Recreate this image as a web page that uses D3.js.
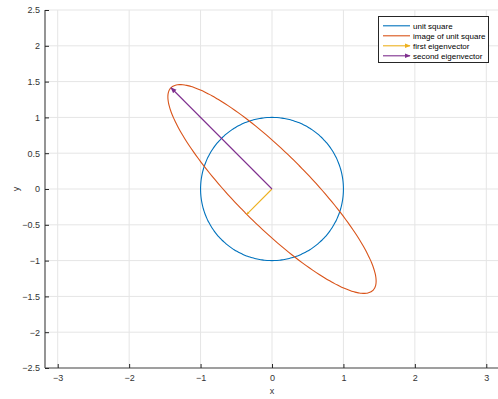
<!DOCTYPE html>
<html>
<head>
<meta charset="utf-8">
<script src="https://cdn.jsdelivr.net/npm/d3@7"></script>
<style>
  body { margin: 0; background: #fff; }
  text { font-family: "Liberation Sans", Arial, sans-serif; }
</style>
</head>
<body>
<script>
// eigenvectors of a 2x2 matrix, unit circle and its image

const w = 498;
const h = 399;

const xTicks = [-3, -2, -1, 0, 1, 2, 3];
const yTicks = [-2.5, -2, -1.5, -1, -0.5, 0, 0.5, 1, 1.5, 2, 2.5];
const xDomain = [-3.178, 3.178];
const yDomain = [-2.5, 2.5];

const matrixA = [[1.25, -0.75], [-0.75, 1.25]];
const eigenvalues = [0.5, 2];
const eigenvectors = [[-0.7071, -0.7071], [-0.7071, 0.7071]];

const seriesNames = ["unit square", "image of unit square", "first eigenvector", "second eigenvector"];
const colors = ["#0072BD", "#D95319", "#EDB120", "#7E2F8E"];

const margin = { top: 10, left: 45, right: -1, bottom: 31 };

const x_scale = d3.scaleLinear()
  .domain(xDomain)
  .range([margin.left, w - margin.right]);

const y_scale = d3.scaleLinear()
  .domain(yDomain)
  .range([h - margin.bottom, margin.top]);

const svg = d3.select("body")
  .append("svg")
  .attr("width", w)
  .attr("height", h);

// arrow heads: plot ones and legend ones
const defs = svg.append("defs");
const heads = [
  { id: "head0", color: colors[2], size: 3 },
  { id: "head1", color: colors[3], size: 6 },
  { id: "lhead0", color: colors[2], size: 6 },
  { id: "lhead1", color: colors[3], size: 6 }
];
heads.forEach(m => {
  defs.append("marker")
    .attr("id", m.id)
    .attr("viewBox", "0 0 10 10")
    .attr("refX", 9)
    .attr("refY", 5)
    .attr("markerWidth", m.size)
    .attr("markerHeight", m.size)
    .attr("markerUnits", "userSpaceOnUse")
    .attr("orient", "auto")
    .append("path")
    .attr("d", "M0,1 L10,5 L0,9 Z")
    .attr("fill", m.color);
});

// grid
svg.append("g")
  .selectAll("line")
  .data(xTicks)
  .enter()
  .append("line")
  .attr("x1", d => x_scale(d))
  .attr("x2", d => x_scale(d))
  .attr("y1", y_scale(yDomain[0]))
  .attr("y2", y_scale(yDomain[1]))
  .attr("stroke", "#e5e5e5")
  .attr("stroke-width", 1);

svg.append("g")
  .selectAll("line")
  .data(yTicks)
  .enter()
  .append("line")
  .attr("x1", x_scale(xDomain[0]))
  .attr("x2", x_scale(xDomain[1]))
  .attr("y1", d => y_scale(d))
  .attr("y2", d => y_scale(d))
  .attr("stroke", "#e5e5e5")
  .attr("stroke-width", 1);

// curves
const theta = d3.range(0, 361, 2).map(d => d * Math.PI / 180);
const circle = theta.map(t => [Math.cos(t), Math.sin(t)]);
const image = circle.map(p => [
  matrixA[0][0] * p[0] + matrixA[0][1] * p[1],
  matrixA[1][0] * p[0] + matrixA[1][1] * p[1]
]);

const line = d3.line()
  .x(d => x_scale(d[0]))
  .y(d => y_scale(d[1]))
  .curve(d3.curveCardinalClosed);

svg.append("path")
  .datum(circle.slice(0, -1))
  .attr("d", line)
  .attr("fill", "none")
  .attr("stroke", colors[0])
  .attr("stroke-width", 1.1);

svg.append("path")
  .datum(image.slice(0, -1))
  .attr("d", line)
  .attr("fill", "none")
  .attr("stroke", colors[1])
  .attr("stroke-width", 1.1);

// eigenvector arrows, scaled by eigenvalue
eigenvectors.forEach((v, i) => {
  svg.append("line")
    .attr("x1", x_scale(0))
    .attr("y1", y_scale(0))
    .attr("x2", x_scale(v[0] * eigenvalues[i]))
    .attr("y2", y_scale(v[1] * eigenvalues[i]))
    .attr("stroke", colors[2 + i])
    .attr("stroke-width", 1.1)
    .attr("marker-end", `url(#head${i})`);
});

// axes
const x_axis = d3.axisBottom(x_scale)
  .tickValues(xTicks)
  .tickSize(-4)
  .tickPadding(7)
  .tickFormat(d3.format("d"));

const y_axis = d3.axisLeft(y_scale)
  .tickValues(yTicks)
  .tickSize(-4)
  .tickPadding(5)
  .tickFormat(d => d3.format("")(d));

const gx = svg.append("g")
  .attr("transform", `translate(0,${y_scale(yDomain[0])})`)
  .call(x_axis);

const gy = svg.append("g")
  .attr("transform", `translate(${x_scale(xDomain[0])},0)`)
  .call(y_axis);

[gx, gy].forEach(g => {
  g.select(".domain").attr("stroke", "#4d4d4d").attr("stroke-width", 1.2);
  g.selectAll(".tick line").attr("stroke", "#262626");
  g.selectAll(".tick text")
    .attr("fill", "#333")
    .attr("font-size", "9px")
    .attr("font-family", "Liberation Sans, Arial, sans-serif");
});
gx.select(".domain").attr("d", `M${x_scale(xDomain[0])},0H${x_scale(xDomain[1])}`);
gy.select(".domain").attr("d", `M0,${y_scale(yDomain[0])}V${y_scale(yDomain[1])}`);

svg.append("text")
  .attr("x", x_scale(0))
  .attr("y", 394)
  .attr("text-anchor", "middle")
  .attr("font-size", "9px")
  .attr("fill", "#333")
  .text("x");

svg.append("text")
  .attr("transform", `translate(19,${y_scale(0)}) rotate(-90)`)
  .attr("text-anchor", "middle")
  .attr("font-size", "9px")
  .attr("fill", "#333")
  .text("y");

// legend
const legend = svg.append("g")
  .attr("transform", "translate(378,16)");

legend.append("rect")
  .attr("x", 0.5)
  .attr("y", 0.5)
  .attr("width", 110)
  .attr("height", 46)
  .attr("fill", "#fff")
  .attr("stroke", "#262626")
  .attr("stroke-width", 1);

const legendItem = legend.selectAll(".legend-item")
  .data(seriesNames)
  .enter()
  .append("g")
  .attr("class", "legend-item")
  .attr("transform", (d, i) => `translate(0,${9.8 + i * 10})`);

legendItem.append("line")
  .attr("x1", 5)
  .attr("x2", 32)
  .attr("y1", 0)
  .attr("y2", 0)
  .attr("stroke", (d, i) => colors[i])
  .attr("stroke-width", 1.1)
  .attr("marker-end", (d, i) => i >= 2 ? `url(#lhead${i - 2})` : null);

legendItem.append("text")
  .attr("x", 35)
  .attr("y", 3)
  .attr("font-size", "8px")
  .attr("fill", "#000")
  .text(d => d);
</script>
</body>
</html>
